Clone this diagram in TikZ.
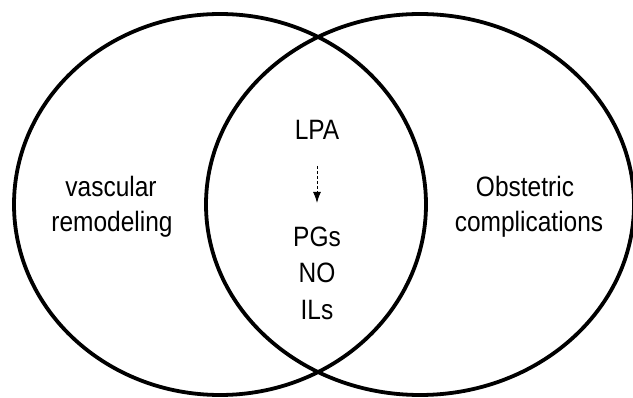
\documentclass[tikz,border=0pt]{standalone}
\usepackage{graphicx}
\usepackage{fontspec}
\setmainfont{Liberation Sans}
\usetikzlibrary{arrows.meta}
\newcommand{\tallt}[1]{\scalebox{0.98}[1.12]{#1}}
\begin{document}
\begin{tikzpicture}[x=1pt,y=-1pt,
  ring/.style={draw=black,line width=3.8pt},
  lbl/.style={font=\fontsize{25}{30}\selectfont,inner sep=0pt,anchor=base},
  flow/.style={draw=black,line width=1pt,dash pattern=on 3pt off 2pt,-{Latex[length=11pt,width=8pt]}}]
\useasboundingbox (0,0) rectangle (633,398);
\draw[ring] (220,204.5) ellipse [x radius=206,y radius=190.5];
\draw[ring] (420,204.5) ellipse [x radius=214,y radius=190.5];
\node[lbl] (v1) at (111,197) {\tallt{vascular}};
\node[lbl] (v2) at (112,232) {\tallt{remodeling}};
\node[lbl] (o1) at (525,197) {\tallt{Obstetric}};
\node[lbl] (o2) at (529,232) {\tallt{complications}};
\node[lbl] (lpa) at (317,140) {\tallt{LPA}};
\node[lbl] (pg) at (317,247) {\tallt{PGs}};
\node[lbl] (no) at (317,283) {\tallt{NO}};
\node[lbl] (il) at (317,320) {\tallt{ILs}};
\coordinate (a1) at (317,166);
\coordinate (a2) at (317,203);
\draw[flow] (a1) -- (a2);
\end{tikzpicture}
\end{document}
